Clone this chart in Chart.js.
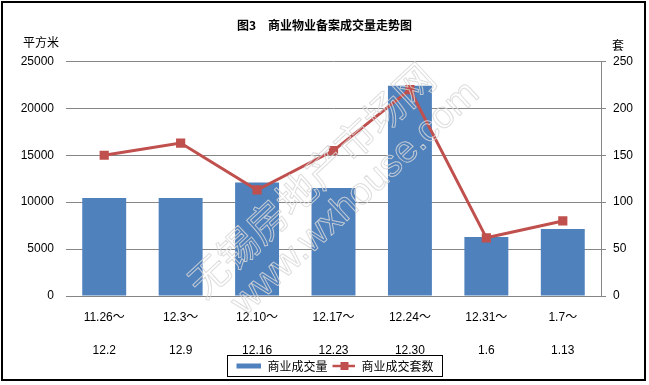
<!DOCTYPE html>
<html>
<head>
<meta charset="utf-8">
<script src="https://cdn.jsdelivr.net/npm/chart.js@4.4.1/dist/chart.umd.min.js"></script>
<style>
html,body{margin:0;padding:0;background:#fff;}
#wrap{position:relative;width:649px;height:385px;}
</style>
</head>
<body>
<div id="wrap"><canvas id="c" width="649" height="385"></canvas></div>
<script>
// ---- data ----
const periodStart = ["11.26～", "12.3～", "12.10～", "12.17～", "12.24～", "12.31～", "1.7～"];
const periodEnd   = ["12.2", "12.9", "12.16", "12.23", "12.30", "1.6", "1.13"];
const areaValues  = [10450, 10450, 12100, 11500, 22400, 6300, 7150];   // 商业成交量 (平方米)
const unitValues  = [150, 163, 113, 155, 220, 62, 80];                  // 商业成交套数 (套)
const leftTicks   = [0, 5000, 10000, 15000, 20000, 25000];
const rightTicks  = [0, 50, 100, 150, 200, 250];
const titleText   = "图3　商业物业备案成交量走势图";
const seriesNames = ["商业成交量", "商业成交套数"];
const unitLeft = "平方米", unitRight = "套";
const watermarkCn = "无锡房地产市场网", watermarkEn = "www.wxhouse.com";

const BLUE = "#4F81BD", RED = "#C0504D", GRID = "#868686";
const FONT = "'Liberation Sans', Arial, 'Noto Sans CJK SC', sans-serif";
const CJK  = "'Noto Sans CJK SC', 'Liberation Sans', sans-serif";

const labels = periodStart.map((s, i) => [s, "", periodEnd[i]]);

// legend marker images (drawn right-aligned in a 28px wide box)
function barMarker() {
  const c = document.createElement("canvas"); c.width = 28; c.height = 6;
  const x = c.getContext("2d"); x.fillStyle = BLUE; x.fillRect(3, 0.5, 26, 5); return c;
}
function lineMarker() {
  const c = document.createElement("canvas"); c.width = 28; c.height = 10;
  const x = c.getContext("2d"); x.strokeStyle = RED; x.lineWidth = 2.5;
  x.beginPath(); x.moveTo(5, 5); x.lineTo(28, 5); x.stroke();
  x.fillStyle = RED; x.fillRect(13, 1, 8, 8); return c;
}

const decor = {
  id: "decor",
  beforeDraw(chart) {
    const ctx = chart.ctx;
    ctx.save();
    ctx.fillStyle = "#fff"; ctx.fillRect(0, 0, chart.width, chart.height);
    ctx.restore();
  },
  afterDraw(chart) {
    const ctx = chart.ctx;
    ctx.save();
    // watermark (thin light outline)
    ctx.save();
    ctx.translate(311, 180);
    ctx.rotate(-43 * Math.PI / 180);
    ctx.textAlign = "center"; ctx.textBaseline = "middle";
    ctx.lineJoin = "round";
    ctx.strokeStyle = "rgba(215,215,215,0.85)"; ctx.lineWidth = 1;
    ctx.font = "40px " + CJK;
    ctx.strokeText(watermarkCn, 0, 0);
    ctx.font = "38px 'Liberation Sans', Arial, sans-serif";
    ctx.strokeText(watermarkEn, 20, 44);
    ctx.restore();
    // unit labels
    ctx.fillStyle = "#000";
    ctx.font = "12px " + CJK;
    ctx.textBaseline = "middle";
    ctx.textAlign = "center";
    ctx.fillText(unitLeft, 41, 42);
    ctx.fillText(unitRight, 618, 45);
    // legend frame
    const lg = chart.legend;
    if (lg && lg.legendHitBoxes && lg.legendHitBoxes.length) {
      let l = Infinity, r = -Infinity, t = Infinity, b = -Infinity;
      lg.legendHitBoxes.forEach(h => {
        l = Math.min(l, h.left); r = Math.max(r, h.left + h.width);
        t = Math.min(t, h.top); b = Math.max(b, h.top + h.height);
      });
      ctx.strokeStyle = "#000"; ctx.lineWidth = 1;
      const L = Math.round(l) - 5.5, R = Math.round(r) + 8.5;
      const T = Math.round(t) - 4.5, B = Math.round(b) + 4.5;
      ctx.strokeRect(L, T, R - L, B - T);
    }
    // outer frame
    ctx.strokeStyle = "#000"; ctx.lineWidth = 2;
    ctx.strokeRect(2, 2, 643, 378);
    ctx.restore();
  }
};

new Chart(document.getElementById("c"), {
  data: {
    labels: labels,
    datasets: [
      {
        type: "line", label: seriesNames[1], data: unitValues, yAxisID: "y1",
        borderColor: RED, backgroundColor: RED, borderWidth: 3,
        pointStyle: "rect", pointRadius: 6.5, pointHoverRadius: 6.5,
        pointBackgroundColor: RED, pointBorderWidth: 0, tension: 0, order: 0
      },
      {
        type: "bar", label: seriesNames[0], data: areaValues, yAxisID: "y",
        backgroundColor: BLUE, borderWidth: 0,
        categoryPercentage: 1, barPercentage: 0.575, order: 1
      }
    ]
  },
  options: {
    responsive: false, animation: false, devicePixelRatio: 1,
    layout: { padding: { top: 0, left: 0, right: 0, bottom: 3 } },
    plugins: {
      title: {
        display: true, text: titleText, color: "#000",
        font: { family: CJK, size: 12, weight: "bold", lineHeight: 1.2 },
        padding: { top: 18, bottom: 29 }
      },
      tooltip: { enabled: false },
      legend: {
        display: true, position: "bottom", fullSize: false,
        labels: {
          usePointStyle: true, pointStyleWidth: 28, padding: 0, color: "#000",
          font: { family: CJK, size: 12 },
          generateLabels: () => [
            { text: seriesNames[0], pointStyle: barMarker(), fillStyle: BLUE, strokeStyle: BLUE, lineWidth: 0, datasetIndex: 1 },
            { text: seriesNames[1], pointStyle: lineMarker(), fillStyle: RED, strokeStyle: RED, lineWidth: 0, datasetIndex: 0 }
          ]
        }
      }
    },
    scales: {
      x: {
        grid: { display: false, drawTicks: false },
        border: { display: true, color: GRID, width: 1 },
        ticks: { color: "#000", font: { family: FONT, size: 12, lineHeight: 1.375 }, padding: 13, maxRotation: 0, autoSkip: false },
        afterFit: s => { s.height = 64; }
      },
      y: {
        position: "left", min: 0, max: 25000,
        afterBuildTicks: s => { s.ticks = leftTicks.map(v => ({ value: v })); },
        grid: { color: GRID, lineWidth: 1, drawTicks: false },
        border: { display: false },
        ticks: { color: "#000", font: { family: FONT, size: 12 }, padding: 12, callback: v => String(v) },
        afterFit: s => { s.width = 66; }
      },
      y1: {
        position: "right", min: 0, max: 250,
        afterBuildTicks: s => { s.ticks = rightTicks.map(v => ({ value: v })); },
        grid: { drawOnChartArea: false, color: GRID, tickLength: 5 },
        border: { display: true, color: GRID, width: 1 },
        ticks: { color: "#000", font: { family: FONT, size: 12 }, padding: 7, callback: v => String(v) },
        afterFit: s => { s.width = 48; }
      }
    }
  },
  plugins: [decor]
});
</script>
</body>
</html>
